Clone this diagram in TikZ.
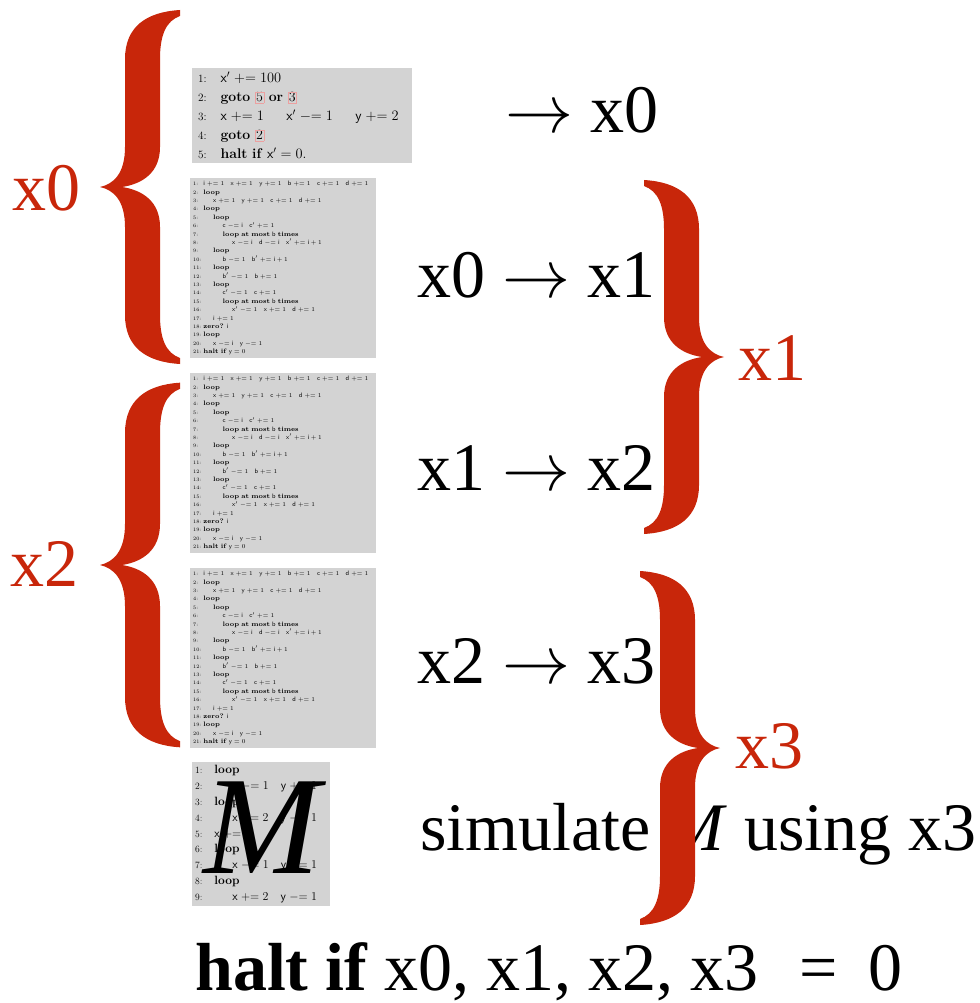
\documentclass[tikz,border=0pt]{standalone}
\usepackage{fontspec}
\newfontfamily\bigrm{Liberation Serif}
\usetikzlibrary{positioning}
\definecolor{BraceRed}{RGB}{200,38,10}
\definecolor{BoxGray}{RGB}{211,211,211}
\definecolor{LinkPink}{RGB}{236,160,160}

\newcommand{\pv}[1]{\mathsf{#1}}
\newcommand{\pluseq}{\mathrel{+}=}
\newcommand{\minuseq}{\mathrel{-}=}
\newcommand{\lno}[1]{\makebox[1.6em][l]{\scalebox{0.8}{#1:}}}
\newcommand{\indt}[1]{\hspace*{#1 em}}
\newcommand{\lnk}[1]{{\setlength\fboxsep{0.6pt}\setlength\fboxrule{0.5pt}\fcolorbox{LinkPink}{BoxGray}{#1}}}
\newcommand{\bigarrow}{\scalebox{6.8}{\normalsize$\rightarrow$}}

% the 21-line counter program (shown three times)
\newcommand{\bigprog}{%
\lno{1}$\pv{i}\pluseq1\quad\pv{x}\pluseq1\quad\pv{y}\pluseq1\quad\pv{b}\pluseq1\quad\pv{c}\pluseq1\quad\pv{d}\pluseq1$\\
\lno{2}\textbf{loop}\\
\lno{3}\indt{1.5}$\pv{x}\pluseq1\quad\pv{y}\pluseq1\quad\pv{c}\pluseq1\quad\pv{d}\pluseq1$\\
\lno{4}\textbf{loop}\\
\lno{5}\indt{1.5}\textbf{loop}\\
\lno{6}\indt{3}$\pv{c}\minuseq\pv{i}\quad\pv{c}'\pluseq1$\\
\lno{7}\indt{3}\textbf{loop at most $\pv{b}$ times}\\
\lno{8}\indt{4.5}$\pv{x}\minuseq\pv{i}\quad\pv{d}\minuseq\pv{i}\quad\pv{x}'\pluseq\pv{i}+1$\\
\lno{9}\indt{1.5}\textbf{loop}\\
\lno{10}\indt{3}$\pv{b}\minuseq1\quad\pv{b}'\pluseq\pv{i}+1$\\
\lno{11}\indt{1.5}\textbf{loop}\\
\lno{12}\indt{3}$\pv{b}'\minuseq1\quad\pv{b}\pluseq1$\\
\lno{13}\indt{1.5}\textbf{loop}\\
\lno{14}\indt{3}$\pv{c}'\minuseq1\quad\pv{c}\pluseq1$\\
\lno{15}\indt{3}\textbf{loop at most $\pv{b}$ times}\\
\lno{16}\indt{4.5}$\pv{x}'\minuseq1\quad\pv{x}\pluseq1\quad\pv{d}\pluseq1$\\
\lno{17}\indt{1.5}$\pv{i}\pluseq1$\\
\lno{18}\textbf{zero?} $\pv{i}$\\
\lno{19}\textbf{loop}\\
\lno{20}\indt{1.5}$\pv{x}\minuseq\pv{i}\quad\pv{y}\minuseq1$\\
\lno{21}\textbf{halt if} $\pv{y}=0$}

\tikzset{
  prog/.style={fill=BoxGray,inner sep=3pt,align=left,anchor=north west},
  bigprogbox/.style={prog,text width=180pt,minimum height=177pt,
    font=\fontsize{6.4}{8.4}\selectfont},
  bigtext/.style={font=\bigrm\fontsize{68}{80}\selectfont,anchor=base west,inner sep=0pt},
  tag/.style={bigtext,text=BraceRed},
  curly/.pic={
    \fill[BraceRed] (0,0) .. controls (14,-3) and (25,-14) .. (25,-40)
      -- (25,-128) .. controls (25,-160) and (46,-175) .. (80,-177)
      -- (80,-171) .. controls (66,-166) and (60,-152) .. (60,-128)
      -- (60,-40) .. controls (60,-14) and (42,-3) .. (22,0)
      .. controls (42,3) and (60,14) .. (60,40)
      -- (60,128) .. controls (60,152) and (66,166) .. (80,171)
      -- (80,177) .. controls (46,175) and (25,160) .. (25,128)
      -- (25,40) .. controls (25,14) and (14,3) .. (0,0) -- cycle;
  }
}

\begin{document}
\begin{tikzpicture}[x=1pt,y=-1pt]
  \useasboundingbox (0,0) rectangle (979,1003);

  % program listings
  \node[prog,text width=208pt,minimum height=95pt,inner xsep=6pt,
    font=\fontsize{14}{19}\selectfont] (p0) at (192,68) {%
    \lno{1}$\pv{x}'\pluseq 100$\\
    \lno{2}\textbf{goto} \lnk{5} \textbf{or} \lnk{3}\\
    \lno{3}$\pv{x}\pluseq1\hspace{1.6em}\pv{x}'\minuseq1\hspace{1.6em}\pv{y}\pluseq2$\\
    \lno{4}\textbf{goto} \lnk{2}\\
    \lno{5}\textbf{halt if} $\pv{x}'=0$.};
  \node[bigprogbox] (p1) at (190,178) {\bigprog};
  \node[bigprogbox] (p2) at (190,373) {\bigprog};
  \node[bigprogbox] (p3) at (190,568) {\bigprog};
  \node[prog,text width=132pt,minimum height=144pt,
    font=\fontsize{12}{15.8}\selectfont] (pm) at (192,762) {%
    \lno{1}\textbf{loop}\\
    \lno{2}\indt{1.5}$\pv{x}\minuseq1\quad\pv{y}\pluseq1$\\
    \lno{3}\textbf{loop}\\
    \lno{4}\indt{1.5}$\pv{x}\pluseq2\quad\pv{y}\minuseq1$\\
    \lno{5}$\pv{x}\pluseq1$\\
    \lno{6}\textbf{loop}\\
    \lno{7}\indt{1.5}$\pv{x}\minuseq1\quad\pv{y}\pluseq1$\\
    \lno{8}\textbf{loop}\\
    \lno{9}\indt{1.5}$\pv{x}\pluseq2\quad\pv{y}\minuseq1$};
  \node[font=\bigrm\itshape\fontsize{140}{140}\selectfont,inner sep=0pt]
    (bigm) at (262,828) {M};

  % what each part computes
  \node[bigtext] (t0) at (505,133) {\bigarrow\ x0};
  \node[bigtext] (t1) at (417,297) {x0 \bigarrow\ x1};
  \node[bigtext] (t2) at (417,490) {x1 \bigarrow\ x2};
  \node[bigtext] (t3) at (417,683) {x2 \bigarrow\ x3};
  \node[bigtext] (t4) at (420,850) {simulate \textit{M} using x3};
  \node[bigtext] (halt) at (195,990)
    {\textbf{halt if} x0, x1, x2, x3\hspace{0.6em}=\hspace{0.45em}0};

  % braces
  \pic at (100,187) {curly};
  \pic[yscale=1.03] at (100,565) {curly};
  \pic[xscale=-1] at (724,357) {curly};
  \pic[xscale=-1] at (720,748) {curly};
  \node[tag] (b0) at (12,210) {x0};
  \node[tag] (b2) at (10,586) {x2};
  \node[tag] (b1) at (738,380) {x1};
  \node[tag] (b3) at (735,768) {x3};
\end{tikzpicture}
\end{document}
